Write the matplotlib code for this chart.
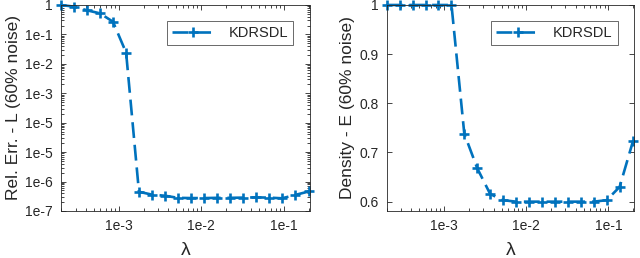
import matplotlib
matplotlib.use("Agg")
import matplotlib.pyplot as plt
from matplotlib.ticker import LogLocator, FixedLocator, NullFormatter

lam = [2.00e-4, 2.87e-4, 4.13e-4, 5.94e-4, 8.53e-4, 1.23e-3, 1.76e-3, 2.53e-3,
       3.64e-3, 5.23e-3, 7.52e-3, 1.08e-2, 1.55e-2, 2.23e-2, 3.21e-2, 4.61e-2,
       6.62e-2, 9.52e-2, 1.37e-1, 2.00e-1]
rel_err = [1.0, 0.88, 0.66, 0.52, 0.27, 0.024, 4.5e-7, 3.6e-7, 3.3e-7, 2.8e-7,
           2.75e-7, 2.75e-7, 2.8e-7, 2.8e-7, 2.85e-7, 2.9e-7, 2.85e-7, 2.7e-7,
           3.5e-7, 4.6e-7]
density = [1.0, 1.0, 1.0, 1.0, 1.0, 1.0, 0.7385, 0.668, 0.6155, 0.603,
           0.600, 0.600, 0.600, 0.600, 0.600, 0.600, 0.600, 0.603, 0.630, 0.724]
series_name = "KDRSDL"
left_ylabel = "Rel. Err. - L (60% noise)"
right_ylabel = "Density - E (60% noise)"
left_yticks = [1e-7, 1e-6, 1e-5, 1e-4, 1e-3, 1e-2, 1e-1, 1]
left_yticklabels = ["1e-7", "1e-6", "1e-5", "1e-5", "1e-3", "1e-2", "1e-1", "1"]
right_yticks = [0.6, 0.7, 0.8, 0.9, 1.0]
right_yticklabels = ["0.6", "0.7", "0.8", "0.9", "1"]
xticks = [1e-3, 1e-2, 1e-1]
xticklabels = ["1e-3", "1e-2", "1e-1"]

blue = "#0072BD"
axc = "#262626"
plt.rcParams['font.family'] = ['Liberation Sans', 'DejaVu Sans']

fig = plt.figure(figsize=(6.4, 2.58), dpi=100)
W, H = 640, 258
def ax_at(x0, y0, x1, y1):
    return fig.add_axes([x0 / W, 1 - y1 / H, (x1 - x0) / W, (y1 - y0) / H])

ax1 = ax_at(61, 5, 309.5, 211)
ax2 = ax_at(386.7, 5, 634, 211)

for ax, y in ((ax1, rel_err), (ax2, density)):
    ax.plot(lam, y, color=blue, lw=1.9, ls=(0, (6, 2.6)), marker='+',
            ms=7.5, mew=1.9, clip_on=False, label=series_name)
    ax.set_xscale('log')
    ax.set_xlim(2e-4, 0.205)
    ax.set_xticks(xticks)
    ax.set_xticklabels(xticklabels)
    ax.xaxis.set_minor_locator(LogLocator(base=10, subs=range(2, 10), numticks=20))
    ax.xaxis.set_minor_formatter(NullFormatter())
    ax.tick_params(which='both', direction='in', top=True, right=True,
                   color=axc, labelcolor=axc, labelsize=10, width=0.6)
    ax.tick_params(which='major', length=3.5, pad=6)
    ax.tick_params(which='minor', length=2)
    for s in ax.spines.values():
        s.set_color(axc)
        s.set_linewidth(0.6)
    ax.set_xlabel("λ", fontsize=14, color=axc, labelpad=6)
    leg = ax.legend(loc='upper right', bbox_to_anchor=(0.934, 0.922), borderaxespad=0,
                    fontsize=10.5, frameon=True, fancybox=False, edgecolor=axc,
                    handlelength=3.0, borderpad=0.35, handletextpad=0.9)
    leg.get_frame().set_linewidth(0.6)
    for t in leg.get_texts():
        t.set_color(axc)

ax1.set_yscale('log')
ax1.set_ylim(1e-7, 1)
ax1.yaxis.set_major_locator(FixedLocator(left_yticks))
ax1.set_yticklabels(left_yticklabels)
ax1.yaxis.set_minor_locator(LogLocator(base=10, subs=range(2, 10), numticks=20))
ax1.yaxis.set_minor_formatter(NullFormatter())
ax1.set_ylabel(left_ylabel, fontsize=12.5, color=axc, labelpad=3)

ax2.set_ylim(0.581, 1.0)
ax2.set_yticks(right_yticks)
ax2.set_yticklabels(right_yticklabels)
ax2.set_ylabel(right_ylabel, fontsize=12.5, color=axc, labelpad=3)

fig.savefig("out.png", dpi=100)
